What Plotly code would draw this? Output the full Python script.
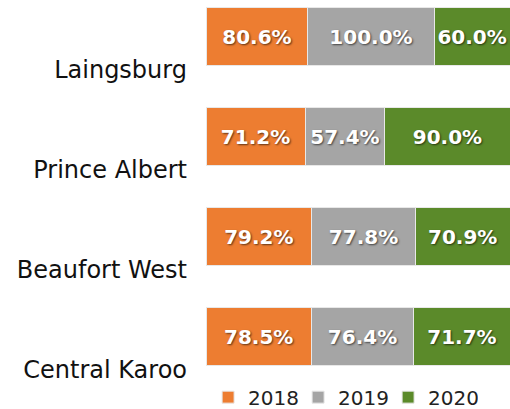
import plotly.graph_objects as go

categories = ["Central Karoo", "Beaufort West", "Prince Albert", "Laingsburg"]
years = ["2018", "2019", "2020"]
v2018 = [78.5, 79.2, 71.2, 80.6]
v2019 = [76.4, 77.8, 57.4, 100.0]
v2020 = [71.7, 70.9, 90.0, 60.0]
colors = ["#ED7D31", "#A5A5A5", "#5B8A2A"]

FONT = "DejaVu Sans"
ypos = list(range(len(categories)))

fig = go.Figure()
for name, vals, col in zip(years, [v2018, v2019, v2020], colors):
    fig.add_trace(go.Bar(
        y=ypos, x=vals, name=name, orientation="h",
        marker=dict(color=col, line=dict(color="#E8E8E8", width=1)),
        width=0.58,
        text=[f"{v:.1f}%" for v in vals],
        texttemplate="%{text}",
        textposition="inside", insidetextanchor="middle",
        textfont=dict(family=FONT, size=20, color="white", weight="bold",
                      shadow="1px 1px 2px rgba(0,0,0,0.6)"),
        hoverinfo="skip",
    ))

fig.update_layout(
    width=510, height=409,
    barmode="stack", barnorm="percent",
    margin=dict(l=206, r=0, t=0, b=0, autoexpand=False),
    paper_bgcolor="white", plot_bgcolor="white",
    font=dict(family=FONT, color="#000000"),
    xaxis=dict(range=[0, 100], visible=False, automargin=False),
    yaxis=dict(range=[-0.725, 3.365], tickmode="array",
               tickvals=[p - 0.33 for p in ypos], ticktext=categories,
               tickfont=dict(family=FONT, size=24, color="#111111"),
               showgrid=False, zeroline=False, showline=False, ticks="",
               ticklabelstandoff=18, automargin=False),
    uniformtext=dict(mode=False),
    legend=dict(orientation="h", x=0.451, y=0.029, xanchor="center", yanchor="middle",
                font=dict(family=FONT, size=20, color="#222222"),
                itemwidth=30, entrywidth=45, entrywidthmode="pixels",
                traceorder="normal", bgcolor="rgba(0,0,0,0)"),
    showlegend=True,
)

fig.write_html("out.html", config={"displayModeBar": False},
               post_script="document.body.style.margin='0';document.body.style.overflow='hidden';")
